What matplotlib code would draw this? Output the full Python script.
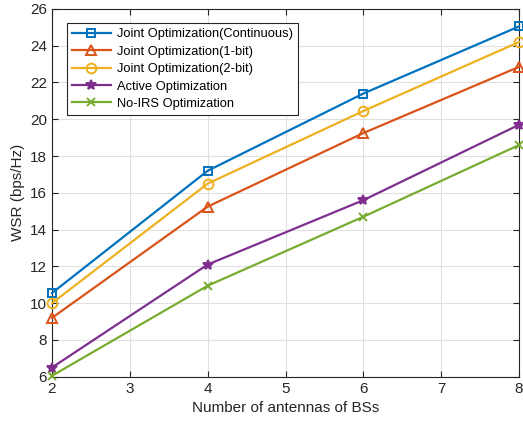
import matplotlib
matplotlib.use('agg')
import matplotlib.pyplot as plt

plt.rcParams['font.family'] = ['Liberation Sans', 'DejaVu Sans']

antennas = [2, 4, 6, 8]
wsr_continuous = [10.55, 17.2, 21.4, 25.05]
wsr_1bit = [9.2, 15.25, 19.25, 22.85]
wsr_2bit = [10.0, 16.5, 20.45, 24.2]
wsr_active = [6.5, 12.1, 15.6, 19.7]
wsr_noirs = [6.05, 10.95, 14.7, 18.6]

labels = ['Joint Optimization(Continuous)', 'Joint Optimization(1-bit)',
          'Joint Optimization(2-bit)', 'Active Optimization', 'No-IRS Optimization']
colors = ['#0072BD', '#D95319', '#EDB120', '#7E2F8E', '#77AC30']
markers = ['s', '^', 'o', '*', 'x']

fig = plt.figure(figsize=(5.23, 4.26), dpi=100)
ax = fig.add_axes([0.0994, 0.1157, 0.893, 0.8633])

series = [wsr_continuous, wsr_1bit, wsr_2bit, wsr_active, wsr_noirs]
for vals, lab, c, m in zip(series, labels, colors, markers):
	ms = 7 if m in ('^', 'o', '*') else 6
	ax.plot(antennas, vals, color=c, marker=m, label=lab, linewidth=1.6,
		markersize=ms, markerfacecolor='none' if m in ('s', '^', 'o') else c,
		markeredgewidth=1.4, clip_on=False, zorder=3)

ax.set_xlim(2, 8)
ax.set_ylim(6, 26)
ax.set_xticks(range(2, 9))
ax.set_yticks(range(6, 27, 2))
ax.grid(True, color='#e0e0e0', linewidth=0.8, zorder=0)
ax.tick_params(direction='in', top=True, right=True, labelsize=11, length=4, colors='#262626')
for s in ax.spines.values():
	s.set_color('#262626')
	s.set_linewidth(0.8)
ax.set_xlabel('Number of antennas of BSs', fontsize=11, color='#262626')
ax.set_ylabel('WSR (bps/Hz)', fontsize=11, color='#262626')

leg = ax.legend(loc='upper left', bbox_to_anchor=(0.032, 0.962), fontsize=9.3,
	fancybox=False, edgecolor='#262626', framealpha=1, borderpad=0.4,
	labelspacing=0.42, handlelength=3.0, handletextpad=0.45, borderaxespad=0)
leg.get_frame().set_linewidth(0.8)

fig.savefig('out.png', dpi=100)
